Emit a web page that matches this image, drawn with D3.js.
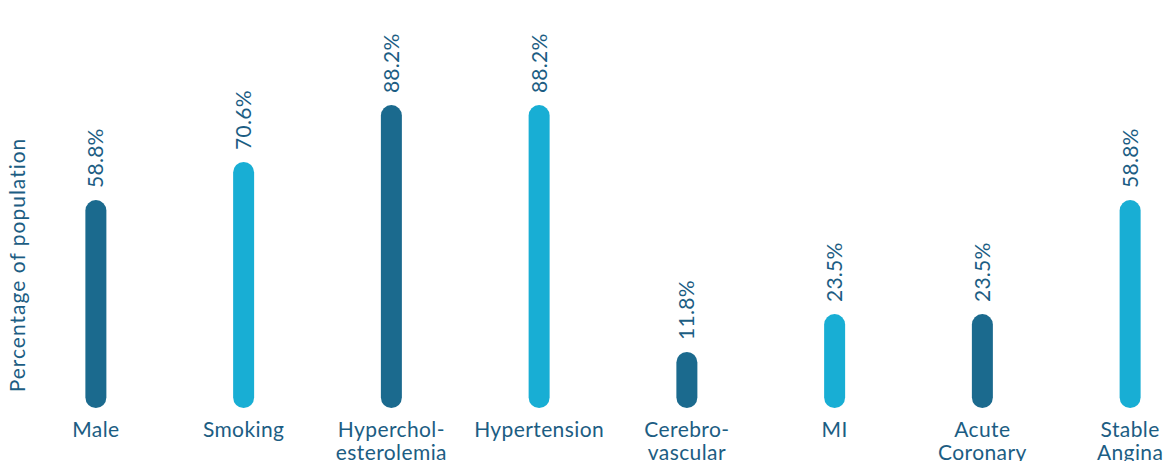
<!DOCTYPE html>
<html>
<head>
<meta charset="utf-8">
<script src="https://cdn.jsdelivr.net/npm/d3@7"></script>
<style>
  html, body { margin: 0; padding: 0; background: #ffffff; }
  svg { display: block; }
  text { font-family: Lato, "Open Sans", sans-serif; fill: #1c5d83; }
</style>
</head>
<body>
<svg id="chart" width="1164" height="461"></svg>
<script>
// Risk factors and presentations, share of the study population (%)
const categories = [
  ["Male"],
  ["Smoking"],
  ["Hyperchol-", "esterolemia"],
  ["Hypertension"],
  ["Cerebro-", "vascular"],
  ["MI"],
  ["Acute", "Coronary"],
  ["Stable", "Angina"]
];
const values = [58.8, 70.6, 88.2, 88.2, 11.8, 23.5, 23.5, 58.8];
const valueLabels = ["58.8%", "70.6%", "88.2%", "88.2%", "11.8%", "23.5%", "23.5%", "58.8%"];
const barColors = ["#1b6a8e", "#18aed4"];
const axisTitle = "Percentage of population";

const svg = d3.select("#chart");

const barWidth = 21;
const r = barWidth / 2;
const baseY = 408;           // bottom edge of the rounded bars
const fontSize = 21;

const x = d3.scaleBand()
  .domain(d3.range(categories.length))
  .range([22, 1204]);

const y = d3.scaleLinear()
  .domain([0, 100])
  .range([baseY - 18, baseY - 18 - 323]);

const cx = i => x(i) + x.bandwidth() / 2;

// pill-shaped bars
svg.append("g").selectAll("rect")
  .data(values)
  .join("rect")
  .attr("x", (d, i) => cx(i) - r)
  .attr("y", d => y(d))
  .attr("width", barWidth)
  .attr("height", d => baseY - y(d))
  .attr("rx", r)
  .attr("ry", r)
  .attr("fill", (d, i) => barColors[i % 2]);

// value labels, rotated above each bar
svg.append("g").selectAll("text")
  .data(values)
  .join("text")
  .attr("transform", (d, i) => `translate(${cx(i) + 7.5},${y(d) - 12}) rotate(-90)`)
  .attr("text-anchor", "start")
  .attr("font-size", fontSize)
  .attr("letter-spacing", 0.3)
  .text((d, i) => valueLabels[i]);

// category labels
const cat = svg.append("g").selectAll("text")
  .data(categories)
  .join("text")
  .attr("x", (d, i) => cx(i))
  .attr("y", 437)
  .attr("text-anchor", "middle")
  .attr("font-size", fontSize)
  .attr("letter-spacing", 0.4);
cat.selectAll("tspan")
  .data(d => d)
  .join("tspan")
  .attr("x", function () { return d3.select(this.parentNode).attr("x"); })
  .attr("dy", (d, j) => j === 0 ? 0 : 23)
  .text(d => d);

// axis title
svg.append("text")
  .attr("transform", `translate(25,265) rotate(-90)`)
  .attr("text-anchor", "middle")
  .attr("font-size", fontSize)
  .attr("letter-spacing", 1)
  .text(axisTitle);
</script>
</body>
</html>
